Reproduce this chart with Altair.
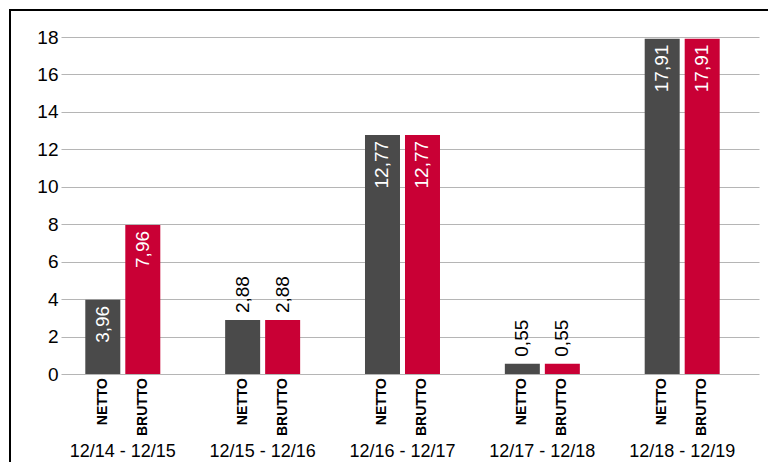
import altair as alt
import pandas as pd

groups = ["12/14 - 12/15", "12/15 - 12/16", "12/16 - 12/17", "12/17 - 12/18", "12/18 - 12/19"]
netto = [3.96, 2.88, 12.77, 0.55, 17.91]
brutto = [7.96, 2.88, 12.77, 0.55, 17.91]
types = ["NETTO", "BRUTTO"]
y_ticks = [0, 2, 4, 6, 8, 10, 12, 14, 16, 18]

rows = []
for g, n, b in zip(groups, netto, brutto):
    rows.append({"group": g, "type": "NETTO", "value": n})
    rows.append({"group": g, "type": "BRUTTO", "value": b})
df = pd.DataFrame(rows)
df["label"] = df["value"].map(lambda v: f"{v:.2f}".replace(".", ","))
df["inside"] = df["value"] > 3.5
gdf = pd.DataFrame({"group": groups})

W, H = 698, 337
FONT = "Liberation Sans"

xscale = alt.Scale(domain=groups, paddingInner=0.4637, paddingOuter=0.2274, align=0.382)
oscale = alt.Scale(domain=types, paddingInner=0.125, paddingOuter=0)
yscale = alt.Scale(domain=[0, 18], nice=False)
yaxis = alt.Axis(title=None, values=y_ticks, domain=False, ticks=False,
                 labelFontSize=19, labelFont=FONT, labelColor="#000000",
                 labelOverlap=False, labelBound=False, labelFlush=False,
                 labelPadding=3, grid=True, gridColor="#b5b5b5", gridWidth=1)

base = alt.Chart(df)

bars = base.mark_bar().encode(
    x=alt.X("group:N", scale=xscale, sort=groups, axis=None),
    xOffset=alt.XOffset("type:N", scale=oscale, sort=types),
    y=alt.Y("value:Q", scale=yscale, axis=yaxis),
    color=alt.Color("type:N", scale=alt.Scale(domain=types, range=["#4a4a4a", "#c90035"]), legend=None),
)

inside_txt = base.transform_filter("datum.inside").mark_text(
    angle=270, align="right", baseline="middle", dx=-6, fontSize=19, font=FONT, color="white"
).encode(
    x=alt.X("group:N", scale=xscale, sort=groups, axis=None),
    xOffset=alt.XOffset("type:N", scale=oscale, sort=types),
    y=alt.Y("value:Q", scale=yscale, axis=yaxis),
    text="label:N",
)

outside_txt = base.transform_filter("!datum.inside").mark_text(
    angle=270, align="left", baseline="middle", dx=7, fontSize=19, font=FONT, color="black"
).encode(
    x=alt.X("group:N", scale=xscale, sort=groups, axis=None),
    xOffset=alt.XOffset("type:N", scale=oscale, sort=types),
    y=alt.Y("value:Q", scale=yscale, axis=yaxis),
    text="label:N",
)

type_txt = base.mark_text(
    angle=270, align="right", baseline="middle", fontSize=14, fontWeight="bold", font=FONT, color="black"
).encode(
    x=alt.X("group:N", scale=xscale, sort=groups, axis=None),
    xOffset=alt.XOffset("type:N", scale=oscale, sort=types),
    y=alt.value(H + 4),
    text="type:N",
)

group_txt = alt.Chart(gdf).mark_text(
    align="center", baseline="alphabetic", fontSize=18, font=FONT, color="black"
).encode(
    x=alt.X("group:N", scale=xscale, sort=groups, axis=None),
    y=alt.value(H + 83),
    text="group:N",
)

frame_top = alt.Chart(pd.DataFrame({"a": [0]})).mark_rule(color="black", strokeWidth=2).encode(
    x=alt.value(-52), x2=alt.value(W + 9), y=alt.value(-27)
)
frame_left = alt.Chart(pd.DataFrame({"a": [0]})).mark_rule(color="black", strokeWidth=2).encode(
    x=alt.value(-51), y=alt.value(-28), y2=alt.value(H + 88)
)

chart = alt.layer(bars, inside_txt, outside_txt, type_txt, group_txt, frame_top, frame_left).properties(
    width=W, height=H, padding=0
).configure(background="white").configure_view(stroke="transparent", strokeWidth=0)

chart.save("out.html", embed_options={"renderer": "svg", "actions": False})
